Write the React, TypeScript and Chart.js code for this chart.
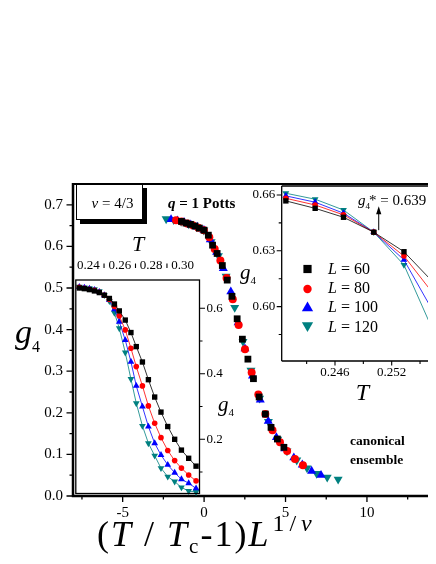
import React, { useEffect, useRef } from 'react';
import { Chart, registerables } from 'chart.js';

Chart.register(...registerables);

const FONT = "'Liberation Serif', 'Times New Roman', serif";

const SERIES_NAMES = ['60', '80', '100', '120'];
const COLORS = ['#000000', '#ff0000', '#0000ff', '#008080'];
const POINT_STYLES = ['rect', 'circle', 'triangle', 'triangle'];
const POINT_ROTATIONS = [0, 0, 0, 180];

// ---------- main panel: g4 vs (T/Tc-1)L^(1/nu) ----------
const MAIN_X_TICKS = [-5, 0, 5, 10];
const MAIN_X_MINOR = [-7.5, -2.5, 2.5, 7.5, 12.5];
const MAIN_Y_TICKS = [0, 0.1, 0.2, 0.3, 0.4, 0.5, 0.6, 0.7];
const MAIN_Y_MINOR = [0.05, 0.15, 0.25, 0.35, 0.45, 0.55, 0.65];

const MAIN_X_L60 = [-1.39, -1.11, -0.84, -0.56, -0.29, -0.01, 0.26, 0.52, 0.80, 1.12, 1.42, 1.71, 2.03, 2.35, 2.69, 3.03, 3.38, 3.76, 4.11, 4.50, 4.90];
const MAIN_G_L60 = [0.660, 0.656, 0.653, 0.649, 0.644, 0.639, 0.627, 0.603, 0.583, 0.554, 0.519, 0.480, 0.426, 0.377, 0.329, 0.282, 0.238, 0.197, 0.165, 0.137, 0.117];
const MAIN_X_L80 = [-1.72, -1.38, -1.04, -0.70, -0.35, -0.01, 0.32, 0.65, 1.00, 1.38, 1.76, 2.12, 2.51, 2.92, 3.33, 3.76, 4.20, 4.66, 5.10, 5.58, 6.07];
const MAIN_G_L80 = [0.663, 0.660, 0.655, 0.651, 0.645, 0.639, 0.622, 0.594, 0.566, 0.524, 0.473, 0.411, 0.353, 0.297, 0.244, 0.197, 0.158, 0.129, 0.108, 0.089, 0.074];
const MAIN_X_L100 = [-2.03, -1.63, -1.23, -0.82, -0.42, -0.01, 0.38, 0.77, 1.18, 1.64, 2.09, 2.51, 2.97, 3.45, 3.94, 4.44, 4.96, 5.51, 6.03, 6.60, 7.18];
const MAIN_G_L100 = [0.665, 0.662, 0.658, 0.652, 0.647, 0.639, 0.616, 0.586, 0.547, 0.491, 0.417, 0.354, 0.289, 0.231, 0.180, 0.141, 0.114, 0.092, 0.075, 0.060, 0.050];
const MAIN_X_L120 = [-2.33, -1.87, -1.41, -0.94, -0.48, -0.02, 0.43, 0.88, 1.35, 1.88, 2.39, 2.88, 3.41, 3.95, 4.52, 5.09, 5.69, 6.32, 6.91, 7.56, 8.23];
const MAIN_G_L120 = [0.666, 0.664, 0.660, 0.654, 0.647, 0.639, 0.611, 0.577, 0.528, 0.453, 0.371, 0.302, 0.235, 0.179, 0.136, 0.108, 0.086, 0.067, 0.054, 0.045, 0.040];

// ---------- left inset: g4 vs T ----------
const LEFT_X_TICKS = [0.24, 0.26, 0.28, 0.30];
const LEFT_X_MINOR = [0.25, 0.27, 0.29];
const LEFT_Y_TICKS = [0.2, 0.4, 0.6];
const LEFT_Y_MINOR = [0.1, 0.3, 0.5];
const LEFT_T = [0.2343, 0.2375, 0.2407, 0.2439, 0.2470, 0.2502, 0.2534, 0.2566, 0.2597, 0.2635, 0.2671, 0.2705, 0.2744, 0.2782, 0.2822, 0.2862, 0.2905, 0.2949, 0.2992, 0.3038, 0.3085];
const LEFT_G_L60 = [0.662, 0.660, 0.657, 0.653, 0.648, 0.640, 0.630, 0.613, 0.592, 0.564, 0.526, 0.483, 0.436, 0.382, 0.329, 0.283, 0.239, 0.200, 0.167, 0.142, 0.118];
const LEFT_G_L80 = [0.664, 0.661, 0.658, 0.655, 0.649, 0.640, 0.627, 0.606, 0.577, 0.534, 0.478, 0.422, 0.363, 0.302, 0.249, 0.205, 0.166, 0.135, 0.112, 0.091, 0.073];
const LEFT_G_L100 = [0.665, 0.663, 0.660, 0.656, 0.650, 0.640, 0.625, 0.597, 0.559, 0.503, 0.437, 0.363, 0.300, 0.239, 0.188, 0.152, 0.122, 0.098, 0.078, 0.066, 0.050];
const LEFT_G_L120 = [0.666, 0.664, 0.661, 0.658, 0.652, 0.640, 0.622, 0.586, 0.539, 0.465, 0.384, 0.310, 0.241, 0.188, 0.150, 0.112, 0.086, 0.071, 0.053, 0.042, 0.039];

// ---------- right inset: zoom near crossing ----------
const RIGHT_X_TICKS = [0.246, 0.252];
const RIGHT_X_MINOR = [0.243, 0.249, 0.255];
const RIGHT_Y_TICKS = [0.60, 0.63, 0.66];
const RIGHT_Y_MINOR = [0.585, 0.615, 0.645];
const ZOOM_T = [0.2408, 0.2439, 0.2469, 0.2501, 0.2533, 0.2565];
const ZOOM_G_L60 = [0.6568, 0.6528, 0.6480, 0.6400, 0.6295, 0.6125];
const ZOOM_G_L80 = [0.6582, 0.6546, 0.6493, 0.6400, 0.6272, 0.6063];
const ZOOM_G_L100 = [0.6595, 0.6561, 0.6502, 0.6400, 0.6251, 0.5964];
const ZOOM_G_L120 = [0.6609, 0.6577, 0.6519, 0.6400, 0.6224, 0.5857];
const CROSSING_T = 0.2501;
const CROSSING_G = 0.640;

const MAIN_X = [MAIN_X_L60, MAIN_X_L80, MAIN_X_L100, MAIN_X_L120];
const MAIN_G = [MAIN_G_L60, MAIN_G_L80, MAIN_G_L100, MAIN_G_L120];
const LEFT_G = [LEFT_G_L60, LEFT_G_L80, LEFT_G_L100, LEFT_G_L120];
const ZOOM_G = [ZOOM_G_L60, ZOOM_G_L80, ZOOM_G_L100, ZOOM_G_L120];

const MAIN_R = [4.8, 4, 5.2, 5.2];
const INSET_R = [3.8, 2.8, 3.9, 3.9];
const LEGEND_R = [5.8, 4.2, 6.5, 6.5];

function makeDatasets(xs: number[][], ys: number[][], radii: number[], showLine: boolean) {
  return ys.map((g, i) => ({
    label: 'L = ' + SERIES_NAMES[i],
    data: g.map((y, k) => ({ x: xs[i][k], y })),
    showLine,
    borderColor: COLORS[i],
    borderWidth: 0.8,
    pointStyle: POINT_STYLES[i],
    pointRotation: POINT_ROTATIONS[i],
    pointRadius: radii[i],
    pointBackgroundColor: COLORS[i],
    pointBorderColor: COLORS[i],
    pointBorderWidth: 0,
    clip: false,
  }));
}

function axis(position: string, min: number, max: number, ticks: number[], digits: number, fit: number, size: number, padding: number, isX: boolean) {
  return {
    type: 'linear',
    position,
    min,
    max,
    afterFit: (s: any) => {
      if (isX) s.height = fit;
      else s.width = fit;
      s.paddingLeft = 0;
      s.paddingRight = 0;
      s.paddingTop = 0;
      s.paddingBottom = 0;
    },
    afterBuildTicks: (s: any) => {
      s.ticks = ticks.map((v) => ({ value: v }));
    },
    ticks: {
      callback: (v: any) => (digits < 0 ? String(v) : Number(v).toFixed(digits)),
      font: { family: FONT, size },
      color: '#000',
      padding,
      maxRotation: 0,
      minRotation: 0,
      autoSkip: false,
    },
    grid: { display: false, drawTicks: false },
    border: { display: false },
  };
}

function seg(ctx: CanvasRenderingContext2D, x1: number, y1: number, x2: number, y2: number) {
  ctx.moveTo(x1, y1);
  ctx.lineTo(x2, y2);
}

function marker(ctx: CanvasRenderingContext2D, i: number, x: number, y: number, r: number) {
  ctx.fillStyle = COLORS[i];
  ctx.beginPath();
  const style = POINT_STYLES[i];
  if (style === 'rect') {
    const s = r * Math.SQRT1_2;
    ctx.rect(x - s, y - s, 2 * s, 2 * s);
  } else if (style === 'circle') {
    ctx.arc(x, y, r, 0, Math.PI * 2);
  } else {
    let a = (POINT_ROTATIONS[i] * Math.PI) / 180;
    for (let k = 0; k < 3; k++) {
      const px = x + Math.sin(a) * r;
      const py = y - Math.cos(a) * r;
      if (k === 0) ctx.moveTo(px, py);
      else ctx.lineTo(px, py);
      a += (2 * Math.PI) / 3;
    }
    ctx.closePath();
  }
  ctx.fill();
}

const mainDeco = {
  id: 'mainDeco',
  afterDraw(chart: any) {
    const { ctx, chartArea: a, scales } = chart;
    const sx = scales.x;
    const sy = scales.y;
    ctx.save();
    ctx.strokeStyle = '#000';
    ctx.lineWidth = 1.3;
    ctx.beginPath();
    MAIN_X_TICKS.forEach((v) => { const p = sx.getPixelForValue(v); seg(ctx, p, a.bottom, p, a.bottom + 6); });
    MAIN_X_MINOR.forEach((v) => { const p = sx.getPixelForValue(v); seg(ctx, p, a.bottom, p, a.bottom + 3.5); });
    MAIN_Y_TICKS.forEach((v) => { const p = sy.getPixelForValue(v); seg(ctx, a.left, p, a.left - 6.5, p); });
    MAIN_Y_MINOR.forEach((v) => { const p = sy.getPixelForValue(v); seg(ctx, a.left, p, a.left - 3.5, p); });
    ctx.stroke();
    ctx.lineWidth = 2.5;
    ctx.beginPath();
    seg(ctx, a.left, a.top - 1, a.left, a.bottom + 1.25);
    seg(ctx, a.left - 1.25, a.bottom, a.right + 4, a.bottom);
    ctx.stroke();
    ctx.lineWidth = 2;
    ctx.beginPath();
    seg(ctx, a.left, a.top, a.right + 4, a.top);
    ctx.stroke();
    ctx.restore();
  },
};

const leftDeco = {
  id: 'leftDeco',
  beforeDraw(chart: any) {
    const { ctx, chartArea: a } = chart;
    ctx.save();
    ctx.fillStyle = '#fff';
    ctx.fillRect(a.left, a.top, a.right - a.left, a.bottom - a.top);
    ctx.restore();
  },
  afterDraw(chart: any) {
    const { ctx, chartArea: a, scales } = chart;
    const sx = scales.x;
    const sy = scales.y;
    ctx.save();
    ctx.strokeStyle = '#000';
    ctx.lineWidth = 1.1;
    ctx.beginPath();
    LEFT_X_MINOR.forEach((v) => { const p = sx.getPixelForValue(v); seg(ctx, p, a.top - 16.5, p, a.top - 12); });
    LEFT_Y_TICKS.forEach((v) => { const p = sy.getPixelForValue(v); seg(ctx, a.right, p, a.right + 5.5, p); });
    LEFT_Y_MINOR.forEach((v) => { const p = sy.getPixelForValue(v); seg(ctx, a.right, p, a.right + 3, p); });
    ctx.stroke();
    ctx.lineWidth = 1.3;
    ctx.strokeRect(a.left, a.top, a.right - a.left, a.bottom - a.top);
    ctx.restore();
  },
};

const rightDeco = {
  id: 'rightDeco',
  beforeDraw(chart: any) {
    const { ctx, chartArea: a } = chart;
    ctx.save();
    ctx.fillStyle = '#fff';
    ctx.fillRect(a.left, a.top, a.right - a.left + 4, a.bottom - a.top);
    ctx.restore();
  },
  afterDraw(chart: any) {
    const { ctx, chartArea: a, scales } = chart;
    const sx = scales.x;
    const sy = scales.y;
    ctx.save();
    ctx.strokeStyle = '#000';
    ctx.lineWidth = 1.1;
    ctx.beginPath();
    RIGHT_X_TICKS.forEach((v) => { const p = sx.getPixelForValue(v); seg(ctx, p, a.bottom, p, a.bottom + 4.5); });
    RIGHT_X_MINOR.forEach((v) => { const p = sx.getPixelForValue(v); seg(ctx, p, a.bottom, p, a.bottom + 3); });
    RIGHT_Y_TICKS.forEach((v) => { const p = sy.getPixelForValue(v); seg(ctx, a.left, p, a.left - 5, p); });
    RIGHT_Y_MINOR.forEach((v) => { const p = sy.getPixelForValue(v); seg(ctx, a.left, p, a.left - 3, p); });
    ctx.stroke();
    ctx.lineWidth = 1.3;
    ctx.beginPath();
    seg(ctx, a.right + 4, a.top, a.left, a.top);
    seg(ctx, a.left, a.top, a.left, a.bottom);
    seg(ctx, a.left, a.bottom, a.right + 4, a.bottom);
    ctx.stroke();
    // arrow pointing at the crossing value label
    const cx = sx.getPixelForValue(CROSSING_T) + 5;
    const cy = sy.getPixelForValue(CROSSING_G);
    ctx.lineWidth = 1;
    ctx.beginPath();
    seg(ctx, cx, cy - 2, cx, cy - 20);
    ctx.stroke();
    ctx.fillStyle = '#000';
    ctx.beginPath();
    ctx.moveTo(cx, cy - 26);
    ctx.lineTo(cx - 2.6, cy - 18);
    ctx.lineTo(cx + 2.6, cy - 18);
    ctx.closePath();
    ctx.fill();
    // legend markers
    const legendY = [269, 289, 308, 325.5];
    legendY.forEach((y, i) => marker(ctx, i, 307.5, y, LEGEND_R[i]));
    ctx.restore();
  },
};

function baseOptions(padding: any, scales: any) {
  return {
    responsive: false,
    maintainAspectRatio: false,
    animation: false,
    events: [],
    layout: { autoPadding: false, padding },
    plugins: { legend: { display: false }, tooltip: { enabled: false } },
    scales,
  };
}

const Shift = ({ size, dy, dx = 0, spacing, children }: any) => (
  <span style={{ fontSize: size, position: 'relative', top: dy, marginLeft: dx, lineHeight: 0, letterSpacing: spacing }}>{children}</span>
);

const Label = ({ x, y, size, center, bold, spacing, children }: any) => (
  <div
    style={{
      position: 'absolute',
      left: x,
      top: y - 0.8375 * size,
      fontSize: size,
      lineHeight: `${size}px`,
      fontFamily: FONT,
      fontWeight: bold ? 'bold' : 'normal',
      whiteSpace: 'nowrap',
      color: '#000',
      letterSpacing: spacing,
      transform: center ? 'translateX(-50%)' : undefined,
    }}
  >
    {children}
  </div>
);

export default function App() {
  const mainRef = useRef<HTMLCanvasElement>(null);
  const leftRef = useRef<HTMLCanvasElement>(null);
  const rightRef = useRef<HTMLCanvasElement>(null);

  useEffect(() => {
    const leftXs = LEFT_G.map(() => LEFT_T);
    const zoomXs = ZOOM_G.map(() => ZOOM_T);

    const main = new Chart(mainRef.current as HTMLCanvasElement, {
      type: 'scatter',
      data: { datasets: makeDatasets(MAIN_X, MAIN_G, MAIN_R, false) as any },
      options: baseOptions({ left: 0, top: 184, right: 0, bottom: 0 }, {
        x: axis('bottom', -8.05, 14.24, MAIN_X_TICKS, -1, 68, 15, 8, true),
        y: axis('left', 0, 0.75, MAIN_Y_TICKS, 1, 73, 15, 10, false),
      }) as any,
      plugins: [mainDeco],
    });

    const left = new Chart(leftRef.current as HTMLCanvasElement, {
      type: 'scatter',
      data: { datasets: makeDatasets(leftXs, LEFT_G, INSET_R, true) as any },
      options: baseOptions({ left: 75.8, top: 240, right: 196.5, bottom: 70.5 }, {
        x: axis('top', 0.23205, 0.31069, LEFT_X_TICKS, 2, 40, 13, 7, true),
        y: axis('right', 0.0345, 0.6864, LEFT_Y_TICKS, 1, 40, 13, 7, false),
      }) as any,
      plugins: [leftDeco],
    });

    const right = new Chart(rightRef.current as HTMLCanvasElement, {
      type: 'scatter',
      data: { datasets: makeDatasets(zoomXs, ZOOM_G, INSET_R, true) as any },
      options: baseOptions({ left: 241.7, top: 186, right: 0, bottom: 173 }, {
        x: axis('bottom', 0.24036, 0.25669, RIGHT_X_TICKS, 3, 30, 13, 4, true),
        y: axis('left', 0.5708, 0.6648, RIGHT_Y_TICKS, 2, 40, 13, 6.5, false),
      }) as any,
      plugins: [rightDeco],
    });

    return () => {
      main.destroy();
      left.destroy();
      right.destroy();
    };
  }, []);

  const canvasStyle: React.CSSProperties = { position: 'absolute', left: 0, top: 0 };
  const legendBaselines = [274.3, 293.6, 312, 332];

  return (
    <div style={{ position: 'relative', width: 436, height: 564, margin: -8, overflow: 'hidden', background: '#fff' }}>
      <canvas ref={mainRef} width={436} height={564} style={canvasStyle} />
      <canvas ref={leftRef} width={436} height={564} style={canvasStyle} />
      <canvas ref={rightRef} width={436} height={564} style={canvasStyle} />

      {/* nu box */}
      <div
        style={{
          position: 'absolute',
          left: 76,
          top: 184,
          width: 65,
          height: 34,
          border: '1px solid #000',
          background: '#fff',
          boxShadow: '4px 4px 0 #000',
        }}
      />
      <Label x={112.5} y={208.3} size={15} center>
        <i>ν</i> = 4/3
      </Label>

      <Label x={168} y={208.3} size={15} bold>
        <i>q</i> = 1 Potts
      </Label>

      <Label x={350} y={445} size={13.5} bold>canonical</Label>
      <Label x={350} y={464} size={13.5} bold>ensemble</Label>

      {/* main axis titles */}
      <Label x={15} y={343} size={34}>
        <i>g</i>
        <Shift size={16} dy={9}>4</Shift>
      </Label>
      <Label x={97} y={546} size={36} spacing={2}>
        (<i>T</i> / <i>T</i>
        <Shift size={21} dy={7}>c</Shift>-1)<i>L</i>
        <Shift size={24} dy={-15} dx={2} spacing={5}>
          1/<i>ν</i>
        </Shift>
      </Label>

      {/* left inset titles */}
      <Label x={138} y={251.7} size={22} center>
        <i>T</i>
      </Label>
      <Label x={218} y={411.3} size={21}>
        <i>g</i>
        <Shift size={11} dy={5}>4</Shift>
      </Label>

      {/* right inset titles */}
      <Label x={362.5} y={400} size={24} center>
        <i>T</i>
      </Label>
      <Label x={240} y={279.2} size={21}>
        <i>g</i>
        <Shift size={11} dy={5}>4</Shift>
      </Label>
      <Label x={358} y={205.2} size={15}>
        <i>g</i>
        <Shift size={9} dy={4}>4</Shift>
        <Shift size={15} dy={0} dx={-1}>*</Shift> = 0.639
      </Label>

      {/* legend text */}
      {SERIES_NAMES.map((n, i) => (
        <Label key={n} x={328} y={legendBaselines[i]} size={16}>
          <i>L</i> = {n}
        </Label>
      ))}
    </div>
  );
}
